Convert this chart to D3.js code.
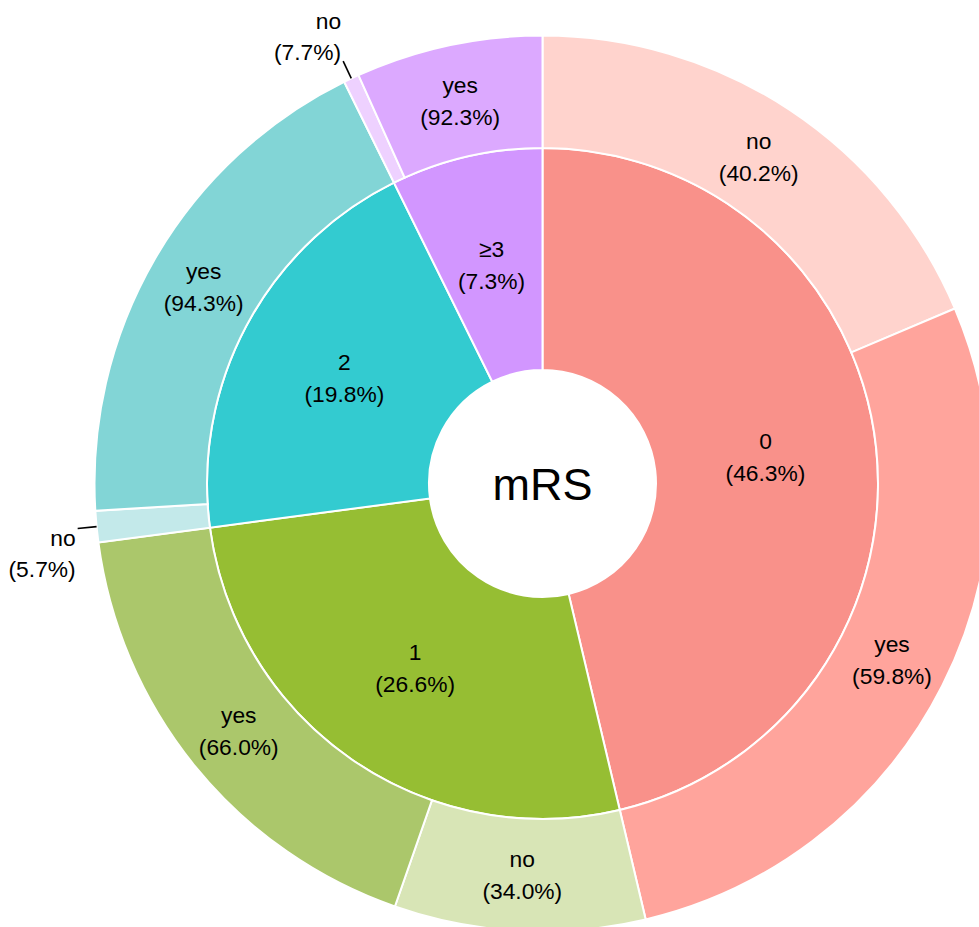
<!DOCTYPE html>
<html>
<head>
<meta charset="utf-8">
<script src="https://cdn.jsdelivr.net/npm/d3@7"></script>
<style>
  html, body { margin: 0; padding: 0; background: #fff; }
  svg { display: block; }
  text { font-family: "Liberation Sans", Arial, Helvetica, sans-serif; fill: #000; }
</style>
</head>
<body>
<svg id="chart" width="979" height="927"></svg>
<script>
// ---- data ----
const centerTitle = "mRS";
const categories = ["0", "1", "2", "≥3"];
const categoryPct = [46.3, 26.6, 19.8, 7.3];
const subLabels = ["no", "yes"];
const subPct0 = [40.2, 59.8];
const subPct1 = [34.0, 66.0];
const subPct2 = [5.7, 94.3];
const subPct3 = [7.7, 92.3];
const subPct = [subPct0, subPct1, subPct2, subPct3];
const innerColors = ["#F9918A", "#96BE33", "#33CBD0", "#D296FF"];
const outerNoColors = ["#FFD3CD", "#D8E5B6", "#C3E9EA", "#EED1FF"];
const outerYesColors = ["#FFA49C", "#ABC76B", "#82D5D6", "#DCA9FF"];

// ---- layout ----
const svg = d3.select("#chart");
const cx = 542.5, cy = 483.5;
const g = svg.append("g").attr("transform", `translate(${cx},${cy})`);

const ring = d3.scaleLinear().domain([0, 1, 2]).range([113.5, 335.5, 448]);
const innerColor = d3.scaleOrdinal().domain(categories).range(innerColors);
const fmt = d3.format(".1f");

const innerPie = d3.pie().sort(null).value(d => d.v)
  .startAngle(0).endAngle(2 * Math.PI);
const innerData = innerPie(categories.map((c, i) => ({ c, v: categoryPct[i], i })));

const innerArc = d3.arc().innerRadius(ring(0)).outerRadius(ring(1));
const outerArc = d3.arc().innerRadius(ring(1)).outerRadius(ring(2));

// inner ring
g.selectAll("path.inner").data(innerData).join("path")
  .attr("class", "inner")
  .attr("d", innerArc)
  .attr("fill", d => innerColor(d.data.c))
  .attr("stroke", "#fff").attr("stroke-width", 2);

// outer ring
const outerData = [];
innerData.forEach((a, i) => {
  const p = d3.pie().sort(null).value(d => d.v)
    .startAngle(a.startAngle).endAngle(a.endAngle)(
      subLabels.map((s, j) => ({ s, v: subPct[i][j], i, j })));
  p.forEach(d => outerData.push(d));
});

g.selectAll("path.outer").data(outerData).join("path")
  .attr("class", "outer")
  .attr("d", outerArc)
  .attr("fill", d => d.data.j === 0 ? outerNoColors[d.data.i] : outerYesColors[d.data.i])
  .attr("stroke", "#fff").attr("stroke-width", 2);

// center hole title
g.append("text")
  .attr("x", 0).attr("y", 16)
  .attr("text-anchor", "middle")
  .style("font-size", "45px")
  .text(centerTitle);

const fs = "22.8px";

// inner labels
innerData.forEach(d => {
  const [x, y] = innerArc.centroid(d);
  const t = g.append("text").attr("text-anchor", "middle").style("font-size", fs);
  t.append("tspan").attr("x", x).attr("y", y - 8).text(d.data.c);
  t.append("tspan").attr("x", x).attr("y", y + 24).text(`(${fmt(d.data.v)}%)`);
});

// outer labels
outerData.forEach(d => {
  const label = d.data.s;
  const pct = `(${fmt(d.data.v)}%)`;
  const span = d.endAngle - d.startAngle;
  if (span > 0.15) {
    const [x, y] = outerArc.centroid(d);
    const t = g.append("text").attr("text-anchor", "middle").style("font-size", fs);
    t.append("tspan").attr("x", x).attr("y", y - 8).text(label);
    t.append("tspan").attr("x", x).attr("y", y + 24).text(pct);
  } else {
    const a = (d.startAngle + d.endAngle) / 2;
    const r0 = ring(2), r1 = ring(2) + 19;
    const x0 = r0 * Math.sin(a), y0 = -r0 * Math.cos(a);
    const x1 = r1 * Math.sin(a), y1 = -r1 * Math.cos(a);
    g.append("line")
      .attr("x1", x0).attr("y1", y0).attr("x2", x1).attr("y2", y1)
      .attr("stroke", "#000").attr("stroke-width", 1.6);
    const t = g.append("text").attr("text-anchor", "end").style("font-size", fs);
    if (y1 < 0) {
      t.append("tspan").attr("x", x1 - 2).attr("y", y1 - 32).text(label);
      t.append("tspan").attr("x", x1 - 2).attr("y", y1 - 1).text(pct);
    } else {
      t.append("tspan").attr("x", x1 - 2).attr("y", y1 + 18).text(label);
      t.append("tspan").attr("x", x1 - 2).attr("y", y1 + 49).text(pct);
    }
  }
});
</script>
</body>
</html>
